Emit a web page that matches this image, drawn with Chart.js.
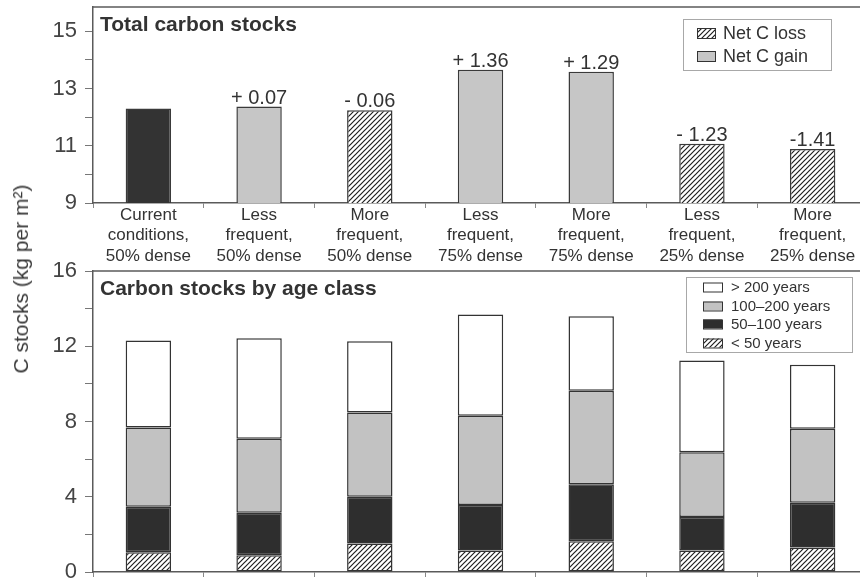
<!DOCTYPE html>
<html>
<head>
<meta charset="utf-8">
<script src="https://cdn.jsdelivr.net/npm/chart.js@4.4.1/dist/chart.umd.min.js"></script>
<style>
  html, body { margin: 0; padding: 0; background: #fff; width: 860px; height: 581px; overflow: hidden; }
  .panel { position: absolute; left: 0; width: 868px; }
  #totalPanel { top: 0; height: 266px; }
  #agePanel { top: 262px; height: 319px; }
  #yTitle {
    position: absolute; left: 21px; top: 279px;
    transform: translate(-50%, -50%) rotate(-90deg);
    font: 21px "Liberation Sans", Arial, sans-serif; color: #3a3a3a; white-space: nowrap;
  }
</style>
</head>
<body>
<div id="totalPanel" class="panel"><canvas id="totalChart"></canvas></div>
<div id="agePanel" class="panel"><canvas id="ageChart"></canvas></div>
<div id="yTitle">C stocks (kg per m²)</div>
<script>
// Scenarios (fire frequency, stand density)
const scenarios = [
  ['Current', 'conditions,', '50% dense'],
  ['Less', 'frequent,', '50% dense'],
  ['More', 'frequent,', '50% dense'],
  ['Less', 'frequent,', '75% dense'],
  ['More', 'frequent,', '75% dense'],
  ['Less', 'frequent,', '25% dense'],
  ['More', 'frequent,', '25% dense']
];

// Total carbon stocks: current conditions plus the net change of each scenario
const baselineStock = 12.3;
const netChange = [0, 0.07, -0.06, 1.36, 1.29, -1.23, -1.41];
const changeLabels = ['', '+ 0.07', '- 0.06', '+ 1.36', '+ 1.29', '- 1.23', '-1.41'];
const totalTicks = [9, 10, 11, 12, 13, 14, 15];
const totalTickLabels = [9, 11, 13, 15];
const changeLegend = ['Net C loss', 'Net C gain'];

// Carbon stocks by stand age class (kg per m2)
const ageUnder50 = [1.05, 0.89, 1.51, 1.14, 1.64, 1.14, 1.30];
const age50to100 = [2.42, 2.26, 2.49, 2.42, 3.02, 1.79, 2.38];
const age100to200 = [4.21, 3.93, 4.48, 4.74, 4.98, 3.44, 3.93];
const ageOver200 = [4.62, 5.35, 3.79, 5.39, 3.96, 4.87, 3.41];
const ageTicks = [0, 2, 4, 6, 8, 10, 12, 14, 16];
const ageTickLabels = [0, 4, 8, 12, 16];
const ageLegend = ['> 200 years', '100–200 years', '50–100 years', '< 50 years'];

const FONT = '"Liberation Sans", Arial, sans-serif';
const INK = '#333333';
const AXIS = '#5a5a5a';
const DARK = '#333333';
const LIGHT = '#c6c6c6';

// Diagonal "////" hatch on white
function hatchPattern() {
  const s = 5;
  const c = document.createElement('canvas');
  c.width = s; c.height = s;
  const g = c.getContext('2d');
  g.fillStyle = '#ffffff';
  g.fillRect(0, 0, s, s);
  g.strokeStyle = '#1e1e1e';
  g.lineWidth = 1.2;
  g.beginPath();
  g.moveTo(-1, s + 1); g.lineTo(s + 1, -1);
  g.moveTo(-s / 2 - 1, s / 2 + 1); g.lineTo(s / 2 + 1, -s / 2 - 1);
  g.moveTo(s / 2 - 1, s * 1.5 + 1); g.lineTo(s * 1.5 + 1, s / 2 - 1);
  g.stroke();
  return g.createPattern(c, 'repeat');
}
const HATCH = hatchPattern();

// Top border line and the bold panel title inside the plot area
const panelFrame = {
  id: 'panelFrame',
  afterDraw(chart, args, opts) {
    const { ctx, chartArea: a } = chart;
    ctx.save();
    ctx.strokeStyle = AXIS;
    ctx.lineWidth = 1.5;
    ctx.beginPath();
    ctx.moveTo(a.left, a.top);
    ctx.lineTo(a.right, a.top);
    ctx.stroke();
    ctx.fillStyle = INK;
    ctx.font = 'bold 21px ' + FONT;
    ctx.textBaseline = 'alphabetic';
    ctx.textAlign = 'left';
    ctx.fillText(opts.title, a.left + 7, a.top + 24);
    ctx.restore();
  }
};

// Boxed legend placed inside the plot area
const boxLegend = {
  id: 'boxLegend',
  afterDraw(chart, args, o) {
    const { ctx } = chart;
    ctx.save();
    ctx.strokeStyle = '#a8a8a8';
    ctx.lineWidth = 1;
    ctx.strokeRect(o.box[0] + 0.5, o.box[1] + 0.5, o.box[2], o.box[3]);
    ctx.font = o.fontSize + 'px ' + FONT;
    ctx.textBaseline = 'middle';
    ctx.textAlign = 'left';
    o.items.forEach((it, i) => {
      const y = o.rowY[i];
      ctx.fillStyle = it.fill;
      ctx.fillRect(o.swatchX, y - o.swatch[1] / 2, o.swatch[0], o.swatch[1]);
      ctx.strokeStyle = '#333';
      ctx.lineWidth = 1;
      ctx.strokeRect(o.swatchX + 0.5, y - o.swatch[1] / 2 + 0.5, o.swatch[0], o.swatch[1]);
      ctx.fillStyle = INK;
      ctx.fillText(it.label, o.textX, y + 1);
    });
    ctx.restore();
  }
};

// Net change written above each scenario bar
const changeText = {
  id: 'changeText',
  afterDatasetsDraw(chart) {
    const { ctx } = chart;
    const meta = chart.getDatasetMeta(0);
    ctx.save();
    ctx.font = '20px ' + FONT;
    ctx.fillStyle = INK;
    ctx.textAlign = 'center';
    ctx.textBaseline = 'alphabetic';
    meta.data.forEach((bar, i) => {
      if (changeLabels[i]) ctx.fillText(changeLabels[i], bar.x, bar.y - 3);
    });
    ctx.restore();
  }
};

function yAxis(min, max, ticks, labelled) {
  return {
    min: min, max: max,
    afterBuildTicks: axis => { axis.ticks = ticks.map(v => ({ value: v })); },
    afterFit: axis => {
      axis.width = 93;
      axis.paddingTop = 0; axis.paddingBottom = 0;
    },
    ticks: {
      color: '#444',
      font: { family: FONT, size: 22 },
      padding: 8,
      callback: v => (labelled.includes(v) ? String(v) : '')
    },
    grid: { drawOnChartArea: false, drawTicks: true, tickLength: 8, color: '#777', lineWidth: 1 },
    border: { display: true, color: AXIS, width: 1.5 }
  };
}

function xAxis(height, showLabels, stacked) {
  return {
    stacked: stacked,
    afterFit: axis => {
      axis.height = height;
      axis.paddingLeft = 0; axis.paddingRight = 0;
    },
    ticks: {
      display: showLabels,
      color: INK,
      font: { family: FONT, size: 17, lineHeight: 1.2 },
      padding: -3,
      maxRotation: 0,
      autoSkip: false
    },
    grid: { offset: true, drawOnChartArea: false, drawTicks: true, tickLength: 5, color: '#888', lineWidth: 1 },
    border: { display: true, color: AXIS, width: 1.5 }
  };
}

Chart.defaults.font.family = FONT;

new Chart(document.getElementById('totalChart'), {
  type: 'bar',
  data: {
    labels: scenarios,
    datasets: [{
      data: netChange.map(d => baselineStock + d),
      backgroundColor: netChange.map(d => (d === 0 ? DARK : d > 0 ? LIGHT : HATCH)),
      borderColor: '#3a3a3a',
      borderWidth: 1.5,
      borderSkipped: false,
      barPercentage: 0.41,
      categoryPercentage: 1
    }]
  },
  options: {
    responsive: true,
    maintainAspectRatio: false,
    animation: false,
    layout: { padding: { top: 7, left: 0, right: 0, bottom: 0 } },
    plugins: {
      legend: { display: false },
      tooltip: { enabled: false },
      panelFrame: { title: 'Total carbon stocks' },
      boxLegend: {
        box: [683, 19, 148, 51],
        swatchX: 697, swatch: [18, 10], textX: 723, rowY: [33, 56], fontSize: 18,
        items: [
          { label: changeLegend[0], fill: HATCH },
          { label: changeLegend[1], fill: LIGHT }
        ]
      }
    },
    scales: {
      x: xAxis(63, true, false),
      y: yAxis(9, 15.85, totalTicks, totalTickLabels)
    }
  },
  plugins: [panelFrame, boxLegend, changeText]
});

new Chart(document.getElementById('ageChart'), {
  type: 'bar',
  data: {
    labels: scenarios,
    datasets: [
      { label: ageLegend[3], data: ageUnder50, backgroundColor: HATCH },
      { label: ageLegend[2], data: age50to100, backgroundColor: '#2e2e2e' },
      { label: ageLegend[1], data: age100to200, backgroundColor: '#c2c2c2' },
      { label: ageLegend[0], data: ageOver200, backgroundColor: '#ffffff' }
    ].map(ds => Object.assign(ds, {
      borderColor: '#333',
      borderWidth: 1.5,
      borderSkipped: false,
      barPercentage: 0.41,
      categoryPercentage: 1
    }))
  },
  options: {
    responsive: true,
    maintainAspectRatio: false,
    animation: false,
    layout: { padding: { top: 9, left: 0, right: 0, bottom: 0 } },
    plugins: {
      legend: { display: false },
      tooltip: { enabled: false },
      panelFrame: { title: 'Carbon stocks by age class' },
      boxLegend: {
        box: [686, 15, 166, 75],
        swatchX: 703, swatch: [19, 9], textX: 731, rowY: [25, 44, 62, 81], fontSize: 15,
        items: [
          { label: ageLegend[0], fill: '#ffffff' },
          { label: ageLegend[1], fill: '#c2c2c2' },
          { label: ageLegend[2], fill: '#2e2e2e' },
          { label: ageLegend[3], fill: HATCH }
        ]
      }
    },
    scales: {
      x: xAxis(9, false, true),
      y: Object.assign(yAxis(0, 16, ageTicks, ageTickLabels), { stacked: true })
    }
  },
  plugins: [panelFrame, boxLegend]
});
</script>
</body>
</html>
